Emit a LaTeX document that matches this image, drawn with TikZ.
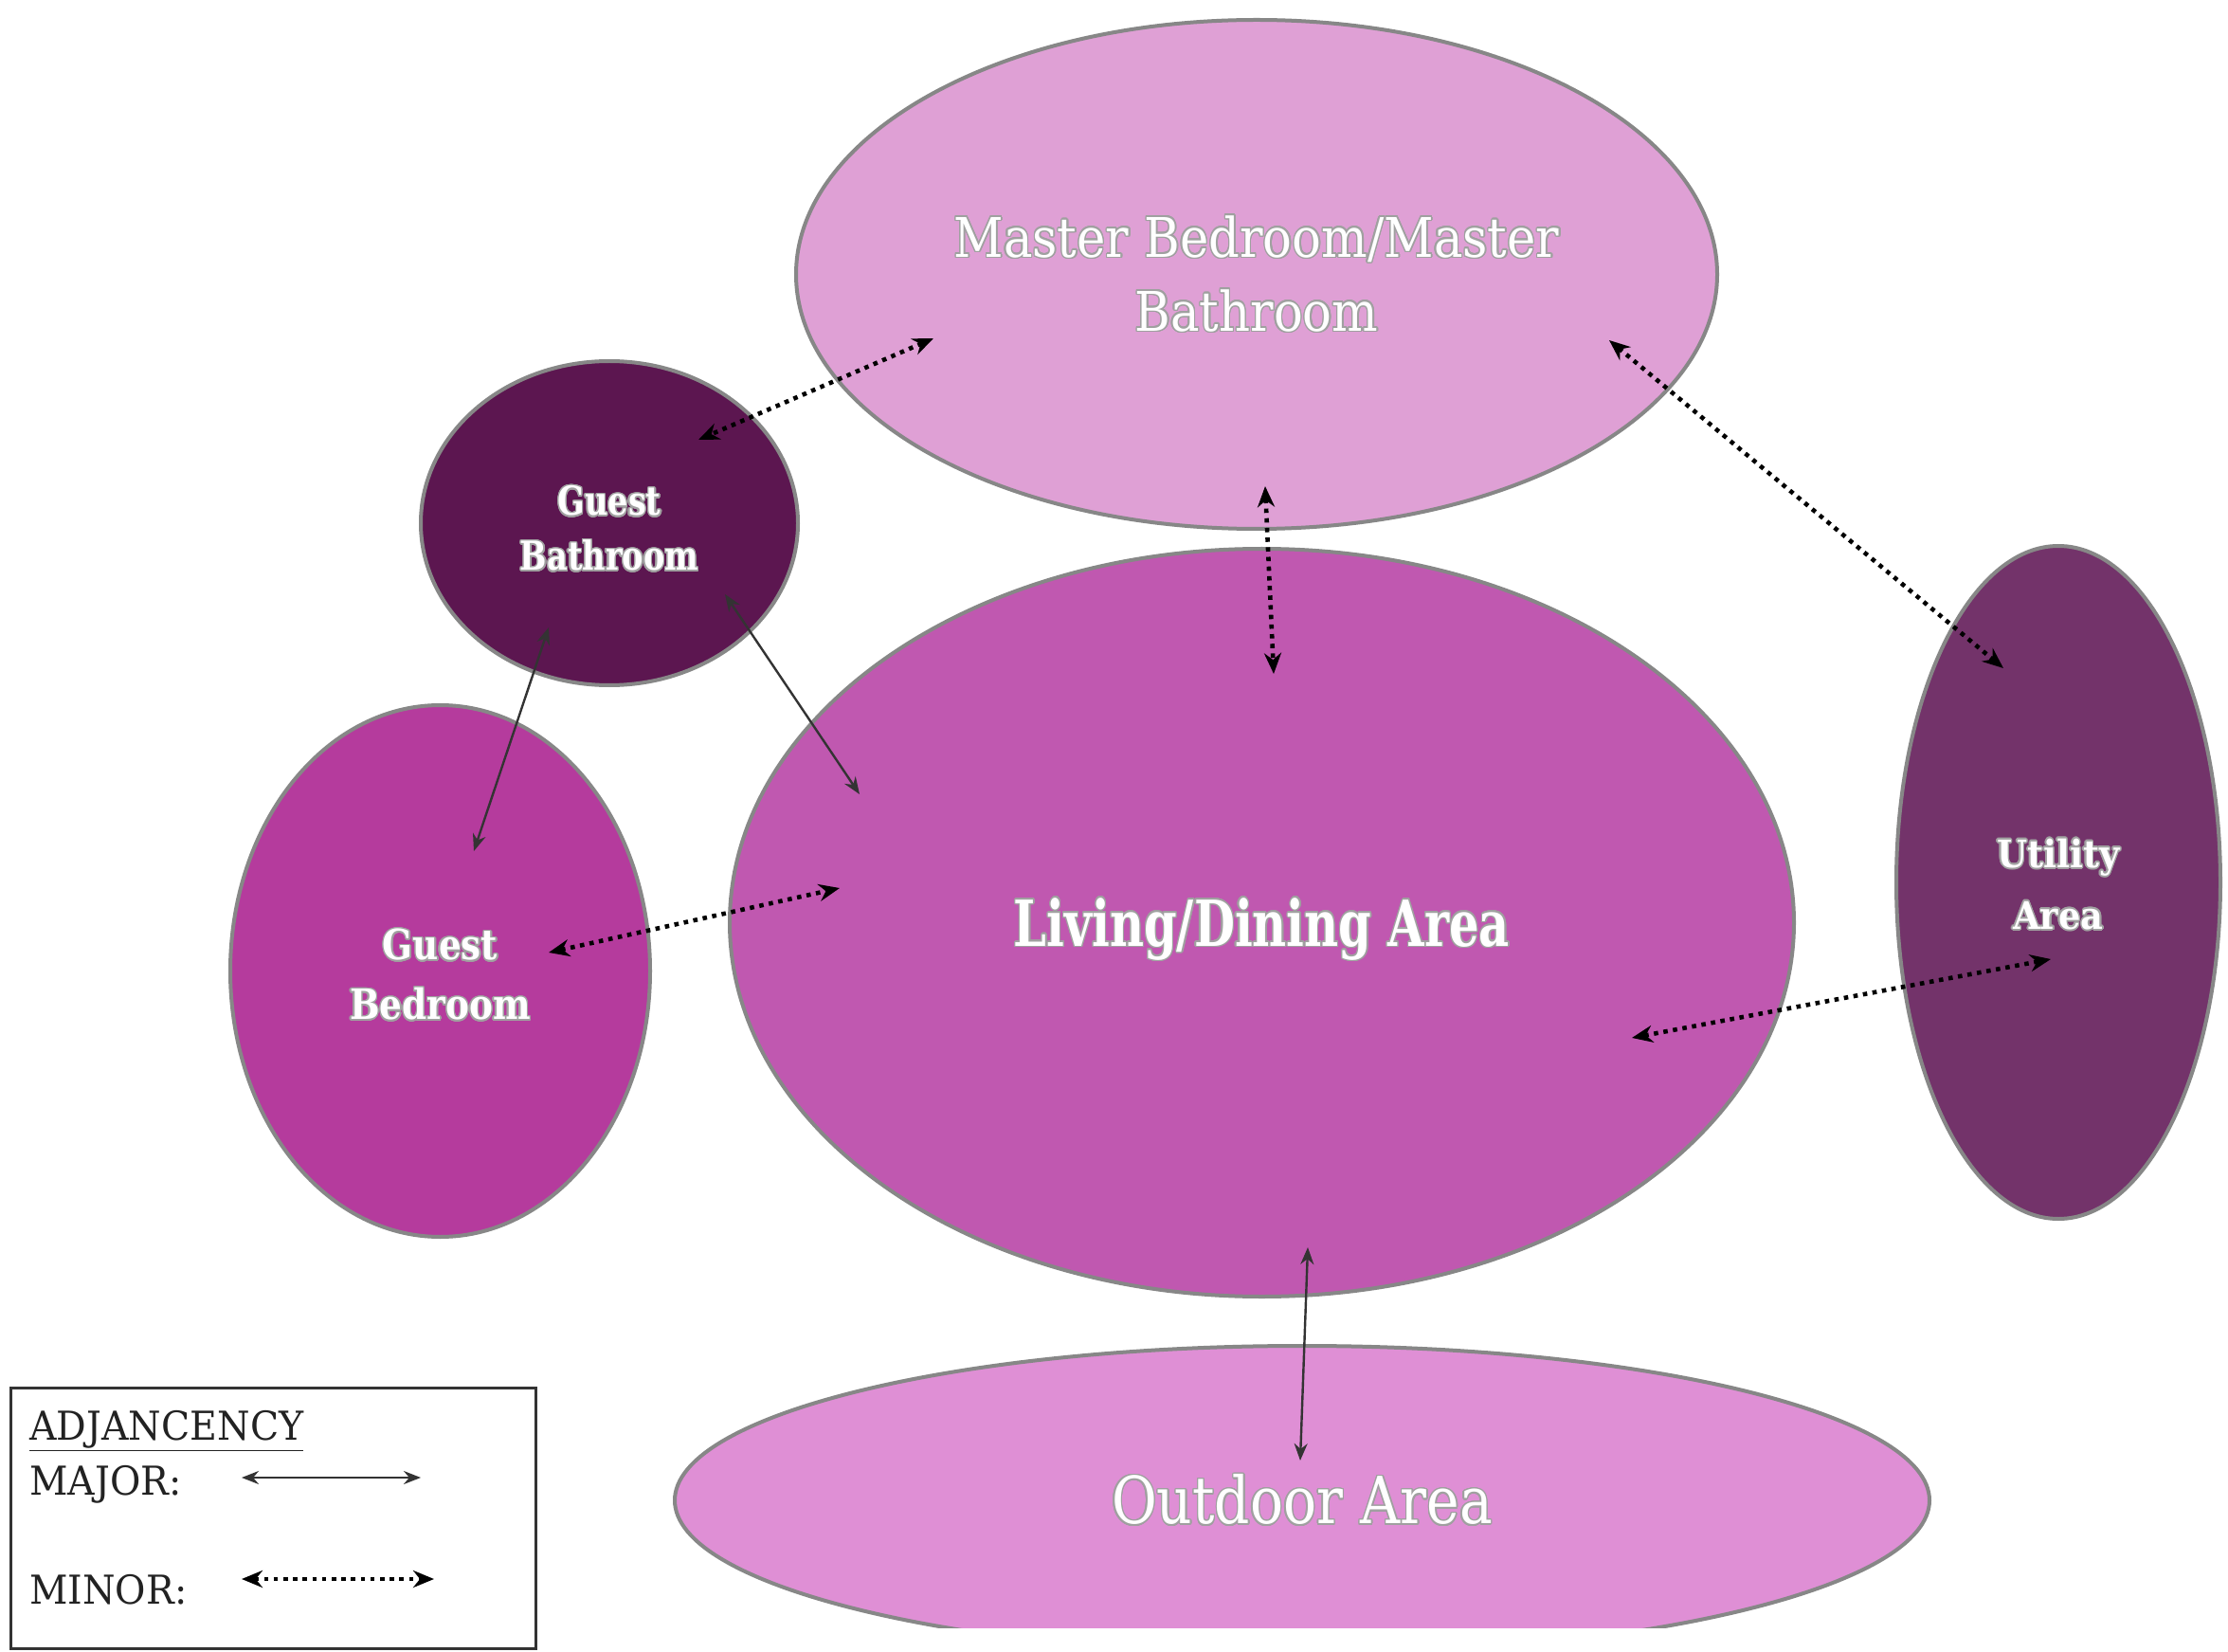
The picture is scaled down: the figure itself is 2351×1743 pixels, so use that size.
\documentclass[tikz,border=0pt]{standalone}
\usepackage{fontspec}
\setmainfont{DejaVu Serif}
\usepackage{contour}
\usetikzlibrary{shapes.geometric,arrows.meta}
\definecolor{cMaster}{RGB}{223,160,213}
\definecolor{cGBath}{RGB}{92,22,80}
\definecolor{cGBed}{RGB}{181,59,157}
\definecolor{cLiving}{RGB}{192,88,176}
\definecolor{cUtil}{RGB}{115,51,106}
\definecolor{cOut}{RGB}{223,143,213}
\definecolor{ellgray}{RGB}{135,135,135}
\definecolor{ctrgray}{RGB}{160,160,160}
\definecolor{legtext}{RGB}{34,34,34}
\contourlength{0.8pt}
\contournumber{20}
\newcommand{\roomlbl}[2]{\scalebox{#1}[1]{\contour{ctrgray}{#2}}}
\newcommand{\leglbl}[1]{\scalebox{0.94}[1]{#1}}
\tikzset{
  room/.style={ellipse, draw=ellgray, line width=2pt, inner sep=0pt, text=white, align=center},
  major/.style={draw=black!80, line width=1.2pt,
    {Stealth[length=9pt,width=7pt]}-{Stealth[length=9pt,width=7pt]}},
  minor/.style={draw=black, line width=2.3pt, dash pattern=on 2.3pt off 2.8pt,
    {Stealth[length=11pt,width=9pt]}-{Stealth[length=11pt,width=9pt]}},
  legtxt/.style={anchor=base west, inner sep=0pt, text=legtext, font=\fontsize{21pt}{25pt}\selectfont}
}
\begin{document}
\begin{tikzpicture}[x=0.5pt,y=-0.5pt]
\useasboundingbox (0,0) rectangle (2351,1743);
\fill[white] (0,0) rectangle (2351,1743);

% rooms
\node[room, fill=cMaster, minimum width=486pt, minimum height=268.5pt,
  font=\fontsize{28.8pt}{39pt}\selectfont] (master) at (1326,289.5)
  {\roomlbl{0.89}{Master Bedroom/Master}\\\roomlbl{0.89}{Bathroom}};
\node[room, fill=cLiving, minimum width=561.5pt, minimum height=394.5pt,
  font=\fontsize{33.5pt}{40pt}\selectfont\bfseries] (living) at (1331.5,973.5)
  {\rule{0pt}{33pt}\roomlbl{0.74}{Living/Dining Area}};
\node[room, fill=cGBath, minimum width=199pt, minimum height=171pt,
  font=\fontsize{21pt}{29pt}\selectfont\bfseries] (gbath) at (643,552)
  {\rule{0pt}{22pt}\roomlbl{0.80}{Guest}\\\roomlbl{0.80}{Bathroom}};
\node[room, fill=cGBed, minimum width=221.5pt, minimum height=280.5pt,
  font=\fontsize{22pt}{31.5pt}\selectfont\bfseries] (gbed) at (464.5,1024.5)
  {\rule{0pt}{21pt}\roomlbl{0.85}{Guest}\\\roomlbl{0.85}{Bedroom}};
\node[room, fill=cUtil, minimum width=171pt, minimum height=355pt,
  font=\fontsize{20pt}{32.5pt}\selectfont\bfseries] (util) at (2172,931)
  {\rule{0pt}{18pt}\roomlbl{0.92}{Utility}\\\roomlbl{0.92}{Area}};
\begin{scope}
\clip (0,0) rectangle (2351,1717);
\node[room, fill=cOut, minimum width=662pt, minimum height=163pt,
  font=\fontsize{34.3pt}{40pt}\selectfont] (outdoor) at (1374,1583)
  {\roomlbl{0.85}{Outdoor Area}};
\end{scope}

% connector end points
\coordinate (mgA) at (985,357);   \coordinate (mgB) at (737,464);
\coordinate (mlA) at (1335,513);  \coordinate (mlB) at (1344,711);
\coordinate (muA) at (1698,359);  \coordinate (muB) at (2114,705);
\coordinate (glA) at (765,627);   \coordinate (glB) at (907,838);
\coordinate (gbA) at (579,662);   \coordinate (gbB) at (500,898);
\coordinate (blA) at (579,1005);  \coordinate (blB) at (886,937);
\coordinate (luA) at (1722,1095); \coordinate (luB) at (2164,1012);
\coordinate (loA) at (1380,1316); \coordinate (loB) at (1372,1541);

\draw[minor] (mgA) -- (mgB);
\draw[minor] (mlA) -- (mlB);
\draw[minor] (muA) -- (muB);
\draw[major] (glA) -- (glB);
\draw[major] (gbA) -- (gbB);
\draw[minor] (blA) -- (blB);
\draw[minor] (luA) -- (luB);
\draw[major] (loA) -- (loB);

% legend
\node[draw=black!80, line width=1.5pt, minimum width=277pt, minimum height=137.5pt,
  inner sep=0pt, anchor=north west] (legend) at (10,1463) {};
\node[legtxt] (adj) at (31,1519) {\leglbl{\underline{ADJANCENCY}}};
\node[legtxt] (maj) at (31,1577) {\leglbl{MAJOR:}};
\node[legtxt] (mino) at (31,1692) {\leglbl{MINOR:}};
\coordinate (maA) at (255,1559); \coordinate (maB) at (444,1559);
\coordinate (miA) at (255,1666); \coordinate (miB) at (458,1666);
\draw[major] (maA) -- (maB);
\draw[minor] (miA) -- (miB);
\end{tikzpicture}
\end{document}
